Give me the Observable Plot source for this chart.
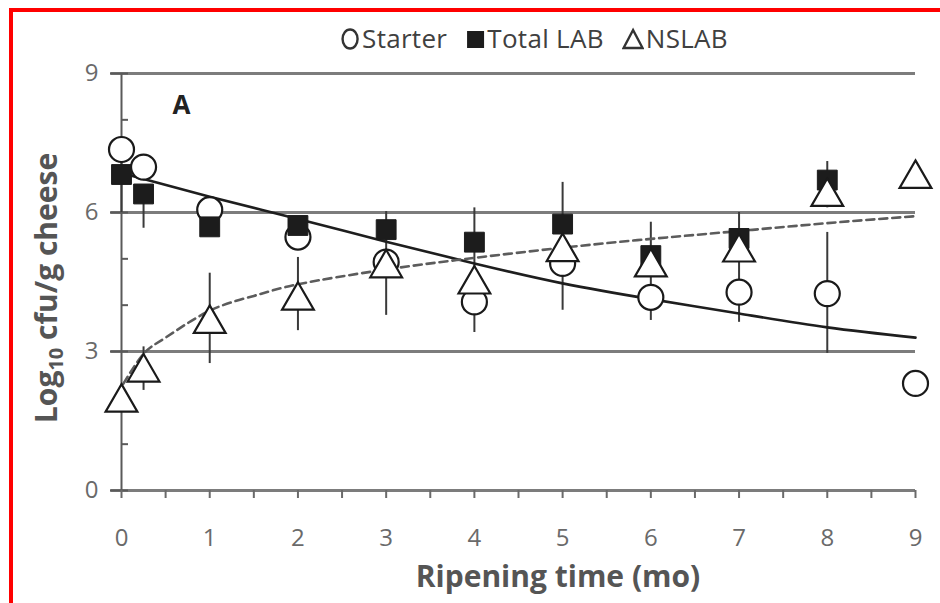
<!DOCTYPE html>
<html>
<head>
<meta charset="utf-8">
<script src="https://cdn.jsdelivr.net/npm/d3@7"></script>
<script src="https://cdn.jsdelivr.net/npm/@observablehq/plot@0.6"></script>
<style>
  body { margin: 0; background: #fff; }
  #wrap { position: relative; width: 940px; height: 603px; overflow: hidden; background: #fff; font-family: "Open Sans", sans-serif; }
  #border { position: absolute; left: 9px; top: 8px; width: 960px; height: 620px; border-left: 4px solid #ff0000; border-top: 4px solid #ff0000; box-sizing: border-box; pointer-events: none; }
  #chart { position: absolute; left: 0; top: 0; }
  #legend { position: absolute; left: 534px; top: 38px; transform: translate(-50%, -50%); font-size: 26px; color: #404040; white-space: nowrap; line-height: 32px; letter-spacing: 0.3px; }
  #legend svg { vertical-align: -3px; margin-right: 2px; }
  #ytitle { position: absolute; left: 45px; top: 288px; transform: translate(-50%, -50%) rotate(-90deg); font-weight: 700; font-size: 30px; color: #555; white-space: nowrap; }
  #ytitle sub { font-size: 20px; vertical-align: -6px; line-height: 0; }
  #xtitle { position: absolute; left: 558px; top: 575px; transform: translate(-50%, -50%); font-weight: 700; font-size: 30px; color: #555; white-space: nowrap; }
</style>
</head>
<body>
<div id="wrap">
  <div id="chart"></div>
  <div id="legend"></div>
  <div id="ytitle">Log<sub>10</sub> cfu/g cheese</div>
  <div id="xtitle">Ripening time (mo)</div>
  <div id="border"></div>
</div>
<script>
// ---- data ----
const months   = [0, 0.25, 1, 2, 3, 4, 5, 6, 7, 8, 9];
const starter  = [7.36, 6.98, 6.06, 5.47, 4.93, 4.07, 4.9, 4.17, 4.28, 4.25, 2.31];
const totalLAB = [6.82, 6.4, 5.69, 5.72, 5.63, 5.36, 5.75, 5.07, 5.44, 6.7, null];
const nslab    = [1.9, 2.55, 3.6, 4.1, 4.8, 4.45, 5.15, 4.82, 5.14, 6.34, 6.73];

const errX    = [0, 0.25, 0.25, 1, 2, 3, 4, 5, 6, 7, 8, 8];
const errLow  = [6.0, 5.66, 2.16, 2.74, 3.45, 3.78, 3.41, 3.89, 3.67, 3.63, 6.1, 2.96];
const errHigh = [7.6, 6.4, 3.1, 4.69, 5.03, 6.02, 6.1, 6.65, 5.79, 6.0, 7.1, 5.57];

const starterFitX = [0, 1, 2, 3, 4, 5, 6, 7, 8, 9];
const starterFitY = [6.85, 6.34, 5.86, 5.37, 4.9, 4.47, 4.13, 3.82, 3.52, 3.3];
const nslabFitX = [0.02, 0.25, 0.5, 1, 1.5, 2, 3, 4, 5, 6, 7, 8, 9];
const nslabFitY = [2.3, 2.95, 3.3, 3.88, 4.2, 4.45, 4.77, 5.02, 5.24, 5.43, 5.6, 5.77, 5.92];

const yMajor = [0, 3, 6, 9];
const yMinor = [0, 1, 2, 3, 4, 5, 6, 7, 8, 9];
const xTicks = d3.range(0, 9.01, 0.5);
const legendLabels = ["Starter", "Total LAB", "NSLAB"];

// ---- tables ----
const toRows = ys => months.map((m, i) => ({x: m, y: ys[i]})).filter(d => d.y != null);
const errRows = errX.map((x, i) => ({x, lo: errLow[i], hi: errHigh[i]}));
const sFit = starterFitX.map((x, i) => ({x, y: starterFitY[i]}));
const nFit = nslabFitX.map((x, i) => ({x, y: nslabFitY[i]}));

const W = 940, H = 603, ML = 121, MR = 25, MT = 73, MB = 113;
const plotW = W - ML - MR;
const grey = "#7c7c7c";

const chart = Plot.plot({
  width: W, height: H,
  marginLeft: ML, marginRight: MR, marginTop: MT, marginBottom: MB,
  style: {fontFamily: "'Open Sans', sans-serif", background: "white", overflow: "visible"},
  x: {domain: [0, 9]},
  y: {domain: [0, 9]},
  marks: [
    Plot.ruleY([0, 3, 6, 9], {x1: -0.12, x2: 9, stroke: grey, strokeWidth: 2.8}),
    Plot.ruleX([0], {y1: 0, y2: 9, stroke: "#5a5a5a", strokeWidth: 2}),
    Plot.tickY(yMinor, {y: d => d, insetRight: plotW - 7, stroke: "#5a5a5a", strokeWidth: 2}),
    Plot.axisY(yMajor, {tickSize: 11, tickPadding: 12, fontSize: 24, stroke: "#5a5a5a", fill: "#6a6a6a", strokeWidth: 2, label: null}),
    Plot.axisX(xTicks, {tickSize: 8, tickPadding: 30, fontSize: 24, stroke: "#6a6a6a", fill: "#6a6a6a", strokeWidth: 2,
      tickFormat: d => Number.isInteger(d) ? String(d) : "", label: null}),
    Plot.ruleX(errRows, {x: "x", y1: "lo", y2: "hi", stroke: "#3a3a3a", strokeWidth: 2}),
    Plot.line(sFit, {x: "x", y: "y", curve: "natural", stroke: "#1e1e1e", strokeWidth: 2.6}),
    Plot.line(nFit, {x: "x", y: "y", curve: "natural", stroke: "#5c5c5c", strokeWidth: 2.6, strokeDasharray: "8,5"}),
    Plot.dot(toRows(starter), {x: "x", y: "y", symbol: "circle", r: 12.5, fill: "white", stroke: "#1a1a1a", strokeWidth: 2.2}),
    Plot.dot(toRows(totalLAB), {x: "x", y: "y", symbol: "square", r: 11.2, fill: "#1c1c1c", stroke: "#1c1c1c", strokeWidth: 1}),
    Plot.dot(toRows(nslab), {x: "x", y: "y", symbol: "triangle", r: 11.8, fill: "white", stroke: "#1a1a1a", strokeWidth: 2.2}),
    Plot.text(["A"], {frameAnchor: "top-left", dx: 60, dy: 32, textAnchor: "middle", lineAnchor: "middle", fontSize: 26, fontWeight: 700, fill: "#222"})
  ]
});
document.getElementById("chart").appendChild(chart);

// ---- legend ----
const sym = {
  Starter: '<svg width="20" height="24"><ellipse cx="10" cy="12" rx="7.5" ry="9.5" fill="none" stroke="#333" stroke-width="2.4"/></svg>',
  "Total LAB": '<svg width="20" height="24"><rect x="2" y="4" width="17" height="17" fill="#1c1c1c"/></svg>',
  NSLAB: '<svg width="22" height="24"><path d="M11,3 L20.5,21 L1.5,21 Z" fill="none" stroke="#333" stroke-width="2.4"/></svg>'
};
document.getElementById("legend").innerHTML = legendLabels
  .map(l => `<span style="margin:0 9px">${sym[l]}${l}</span>`).join("");
</script>
</body>
</html>
